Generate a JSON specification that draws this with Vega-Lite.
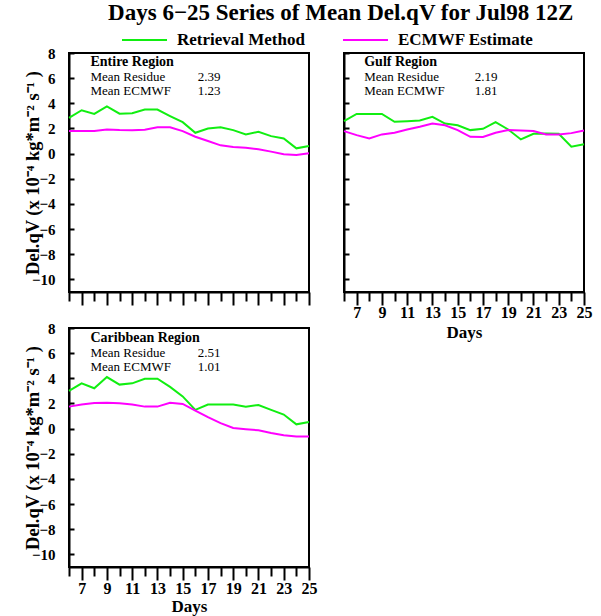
{
  "$schema": "https://vega.github.io/schema/vega-lite/v6.json",
  "background": "white",
  "padding": {"left": 22, "top": 2, "right": 8, "bottom": 2},
  "title": {"text": "Days 6−25 Series of Mean Del.qV for Jul98 12Z", "font": "Liberation Serif", "fontSize": 23, "fontWeight": "bold", "color": "black", "anchor": "middle", "offset": -9, "dx": 33},
  "datasets": {
    "series": [
      {"panel":"Entire","day":6,"series":"Retrieval Method","value":2.84},
      {"panel":"Entire","day":7,"series":"Retrieval Method","value":3.45},
      {"panel":"Entire","day":8,"series":"Retrieval Method","value":3.16},
      {"panel":"Entire","day":9,"series":"Retrieval Method","value":3.76},
      {"panel":"Entire","day":10,"series":"Retrieval Method","value":3.18},
      {"panel":"Entire","day":11,"series":"Retrieval Method","value":3.21},
      {"panel":"Entire","day":12,"series":"Retrieval Method","value":3.5},
      {"panel":"Entire","day":13,"series":"Retrieval Method","value":3.5},
      {"panel":"Entire","day":14,"series":"Retrieval Method","value":2.99},
      {"panel":"Entire","day":15,"series":"Retrieval Method","value":2.5},
      {"panel":"Entire","day":16,"series":"Retrieval Method","value":1.66},
      {"panel":"Entire","day":17,"series":"Retrieval Method","value":2.0},
      {"panel":"Entire","day":18,"series":"Retrieval Method","value":2.1},
      {"panel":"Entire","day":19,"series":"Retrieval Method","value":1.87},
      {"panel":"Entire","day":20,"series":"Retrieval Method","value":1.53},
      {"panel":"Entire","day":21,"series":"Retrieval Method","value":1.74},
      {"panel":"Entire","day":22,"series":"Retrieval Method","value":1.39},
      {"panel":"Entire","day":23,"series":"Retrieval Method","value":1.21},
      {"panel":"Entire","day":24,"series":"Retrieval Method","value":0.42},
      {"panel":"Entire","day":25,"series":"Retrieval Method","value":0.6},
      {"panel":"Entire","day":6,"series":"ECMWF Estimate","value":1.79},
      {"panel":"Entire","day":7,"series":"ECMWF Estimate","value":1.79},
      {"panel":"Entire","day":8,"series":"ECMWF Estimate","value":1.8},
      {"panel":"Entire","day":9,"series":"ECMWF Estimate","value":1.92},
      {"panel":"Entire","day":10,"series":"ECMWF Estimate","value":1.87},
      {"panel":"Entire","day":11,"series":"ECMWF Estimate","value":1.85},
      {"panel":"Entire","day":12,"series":"ECMWF Estimate","value":1.9},
      {"panel":"Entire","day":13,"series":"ECMWF Estimate","value":2.1},
      {"panel":"Entire","day":14,"series":"ECMWF Estimate","value":2.1},
      {"panel":"Entire","day":15,"series":"ECMWF Estimate","value":1.79},
      {"panel":"Entire","day":16,"series":"ECMWF Estimate","value":1.34},
      {"panel":"Entire","day":17,"series":"ECMWF Estimate","value":1.0},
      {"panel":"Entire","day":18,"series":"ECMWF Estimate","value":0.66},
      {"panel":"Entire","day":19,"series":"ECMWF Estimate","value":0.53},
      {"panel":"Entire","day":20,"series":"ECMWF Estimate","value":0.47},
      {"panel":"Entire","day":21,"series":"ECMWF Estimate","value":0.34},
      {"panel":"Entire","day":22,"series":"ECMWF Estimate","value":0.16},
      {"panel":"Entire","day":23,"series":"ECMWF Estimate","value":-0.05},
      {"panel":"Entire","day":24,"series":"ECMWF Estimate","value":-0.1},
      {"panel":"Entire","day":25,"series":"ECMWF Estimate","value":0.03},
      {"panel":"Gulf","day":6,"series":"Retrieval Method","value":2.58},
      {"panel":"Gulf","day":7,"series":"Retrieval Method","value":3.16},
      {"panel":"Gulf","day":8,"series":"Retrieval Method","value":3.16},
      {"panel":"Gulf","day":9,"series":"Retrieval Method","value":3.16},
      {"panel":"Gulf","day":10,"series":"Retrieval Method","value":2.53},
      {"panel":"Gulf","day":11,"series":"Retrieval Method","value":2.58},
      {"panel":"Gulf","day":12,"series":"Retrieval Method","value":2.63},
      {"panel":"Gulf","day":13,"series":"Retrieval Method","value":2.92},
      {"panel":"Gulf","day":14,"series":"Retrieval Method","value":2.39},
      {"panel":"Gulf","day":15,"series":"Retrieval Method","value":2.26},
      {"panel":"Gulf","day":16,"series":"Retrieval Method","value":1.87},
      {"panel":"Gulf","day":17,"series":"Retrieval Method","value":1.97},
      {"panel":"Gulf","day":18,"series":"Retrieval Method","value":2.5},
      {"panel":"Gulf","day":19,"series":"Retrieval Method","value":1.92},
      {"panel":"Gulf","day":20,"series":"Retrieval Method","value":1.13},
      {"panel":"Gulf","day":21,"series":"Retrieval Method","value":1.58},
      {"panel":"Gulf","day":22,"series":"Retrieval Method","value":1.6},
      {"panel":"Gulf","day":23,"series":"Retrieval Method","value":1.58},
      {"panel":"Gulf","day":24,"series":"Retrieval Method","value":0.55},
      {"panel":"Gulf","day":25,"series":"Retrieval Method","value":0.74},
      {"panel":"Gulf","day":6,"series":"ECMWF Estimate","value":1.79},
      {"panel":"Gulf","day":7,"series":"ECMWF Estimate","value":1.47},
      {"panel":"Gulf","day":8,"series":"ECMWF Estimate","value":1.21},
      {"panel":"Gulf","day":9,"series":"ECMWF Estimate","value":1.53},
      {"panel":"Gulf","day":10,"series":"ECMWF Estimate","value":1.66},
      {"panel":"Gulf","day":11,"series":"ECMWF Estimate","value":1.92},
      {"panel":"Gulf","day":12,"series":"ECMWF Estimate","value":2.13},
      {"panel":"Gulf","day":13,"series":"ECMWF Estimate","value":2.39},
      {"panel":"Gulf","day":14,"series":"ECMWF Estimate","value":2.26},
      {"panel":"Gulf","day":15,"series":"ECMWF Estimate","value":1.87},
      {"panel":"Gulf","day":16,"series":"ECMWF Estimate","value":1.34},
      {"panel":"Gulf","day":17,"series":"ECMWF Estimate","value":1.32},
      {"panel":"Gulf","day":18,"series":"ECMWF Estimate","value":1.66},
      {"panel":"Gulf","day":19,"series":"ECMWF Estimate","value":1.87},
      {"panel":"Gulf","day":20,"series":"ECMWF Estimate","value":1.84},
      {"panel":"Gulf","day":21,"series":"ECMWF Estimate","value":1.79},
      {"panel":"Gulf","day":22,"series":"ECMWF Estimate","value":1.53},
      {"panel":"Gulf","day":23,"series":"ECMWF Estimate","value":1.53},
      {"panel":"Gulf","day":24,"series":"ECMWF Estimate","value":1.63},
      {"panel":"Gulf","day":25,"series":"ECMWF Estimate","value":1.84},
      {"panel":"Caribbean","day":6,"series":"Retrieval Method","value":3.0},
      {"panel":"Caribbean","day":7,"series":"Retrieval Method","value":3.6},
      {"panel":"Caribbean","day":8,"series":"Retrieval Method","value":3.21},
      {"panel":"Caribbean","day":9,"series":"Retrieval Method","value":4.1},
      {"panel":"Caribbean","day":10,"series":"Retrieval Method","value":3.5},
      {"panel":"Caribbean","day":11,"series":"Retrieval Method","value":3.6},
      {"panel":"Caribbean","day":12,"series":"Retrieval Method","value":3.97},
      {"panel":"Caribbean","day":13,"series":"Retrieval Method","value":3.97},
      {"panel":"Caribbean","day":14,"series":"Retrieval Method","value":3.32},
      {"panel":"Caribbean","day":15,"series":"Retrieval Method","value":2.56},
      {"panel":"Caribbean","day":16,"series":"Retrieval Method","value":1.49},
      {"panel":"Caribbean","day":17,"series":"Retrieval Method","value":1.91},
      {"panel":"Caribbean","day":18,"series":"Retrieval Method","value":1.91},
      {"panel":"Caribbean","day":19,"series":"Retrieval Method","value":1.91},
      {"panel":"Caribbean","day":20,"series":"Retrieval Method","value":1.75},
      {"panel":"Caribbean","day":21,"series":"Retrieval Method","value":1.88},
      {"panel":"Caribbean","day":22,"series":"Retrieval Method","value":1.49},
      {"panel":"Caribbean","day":23,"series":"Retrieval Method","value":1.12},
      {"panel":"Caribbean","day":24,"series":"Retrieval Method","value":0.34},
      {"panel":"Caribbean","day":25,"series":"Retrieval Method","value":0.52},
      {"panel":"Caribbean","day":6,"series":"ECMWF Estimate","value":1.75},
      {"panel":"Caribbean","day":7,"series":"ECMWF Estimate","value":1.91},
      {"panel":"Caribbean","day":8,"series":"ECMWF Estimate","value":2.04},
      {"panel":"Caribbean","day":9,"series":"ECMWF Estimate","value":2.06},
      {"panel":"Caribbean","day":10,"series":"ECMWF Estimate","value":2.01},
      {"panel":"Caribbean","day":11,"series":"ECMWF Estimate","value":1.91},
      {"panel":"Caribbean","day":12,"series":"ECMWF Estimate","value":1.75},
      {"panel":"Caribbean","day":13,"series":"ECMWF Estimate","value":1.75},
      {"panel":"Caribbean","day":14,"series":"ECMWF Estimate","value":2.06},
      {"panel":"Caribbean","day":15,"series":"ECMWF Estimate","value":1.96},
      {"panel":"Caribbean","day":16,"series":"ECMWF Estimate","value":1.44},
      {"panel":"Caribbean","day":17,"series":"ECMWF Estimate","value":0.91},
      {"panel":"Caribbean","day":18,"series":"ECMWF Estimate","value":0.44},
      {"panel":"Caribbean","day":19,"series":"ECMWF Estimate","value":0.05},
      {"panel":"Caribbean","day":20,"series":"ECMWF Estimate","value":-0.05},
      {"panel":"Caribbean","day":21,"series":"ECMWF Estimate","value":-0.13},
      {"panel":"Caribbean","day":22,"series":"ECMWF Estimate","value":-0.34},
      {"panel":"Caribbean","day":23,"series":"ECMWF Estimate","value":-0.52},
      {"panel":"Caribbean","day":24,"series":"ECMWF Estimate","value":-0.63},
      {"panel":"Caribbean","day":25,"series":"ECMWF Estimate","value":-0.63}
    ],
    "notes": [
      {"panel":"Entire","region":"Entire Region","residue":2.39,"ecmwf":1.23},
      {"panel":"Gulf","region":"Gulf Region","residue":2.19,"ecmwf":1.81},
      {"panel":"Caribbean","region":"Caribbean Region","residue":2.51,"ecmwf":1.01}
    ]
  },
  "columns": 2,
  "spacing": {"row": 36, "column": 35},
  "bounds": "flush",
  "resolve": {"scale": {"color": "shared"}, "legend": {"color": "shared"}},
  "concat": [
    {
      "width": 240, "height": 239,
      "layer": [
        {"data": {"name": "series"}, "transform": [{"filter": "datum.panel == 'Entire'"}],
         "mark": {"type": "line", "strokeWidth": 2},
         "encoding": {
           "x": {"field": "day", "type": "quantitative", "scale": {"domain": [6, 25], "nice": false, "zero": false},
                 "axis": {"title": null, "labels": false, "tickCount": 100, "format": "d", "values": [6,7,8,9,10,11,12,13,14,15,16,17,18,19,20,21,22,23,24,25], "tickSize": {"condition": {"test": "datum.value % 2 == 1", "value": 13}, "value": 9}}},
           "y": {"field": "value", "type": "quantitative", "scale": {"domain": [-11, 8], "nice": false, "zero": false},
                 "axis": {"title": "Del.qV (x 10⁻⁴ kg*m⁻² s⁻¹ )", "titleFontSize": 18.5, "labelFontSize": 15, "tickCount": 100, "format": "d", "values": [-10,-8,-6,-4,-2,0,2,4,6,8], "tickSize": -5, "labelPadding": 19, "titlePadding": -11}},
           "color": {"field": "series", "type": "nominal", "scale": {"domain": ["Retrieval Method", "ECMWF Estimate"], "range": ["#11ee11", "#ff00ff"]}, "legend": {"title": null}}
         }},
        {"data": {"name": "notes"}, "transform": [{"filter": "datum.panel == 'Entire'"}],
         "mark": {"type": "text", "align": "left", "baseline": "middle", "fontSize": 14, "fontWeight": "bold"},
         "encoding": {"x": {"datum": 7.7, "type": "quantitative"}, "y": {"datum": 7.28, "type": "quantitative"}, "text": {"field": "region"}}},
        {"data": {"name": "notes"}, "transform": [{"filter": "datum.panel == 'Entire'"}],
         "mark": {"type": "text", "align": "left", "baseline": "middle", "fontSize": 13},
         "encoding": {"x": {"datum": 7.7, "type": "quantitative"}, "y": {"datum": 6.1, "type": "quantitative"}, "text": {"value": "Mean Residue"}}},
        {"data": {"name": "notes"}, "transform": [{"filter": "datum.panel == 'Entire'"}],
         "mark": {"type": "text", "align": "left", "baseline": "middle", "fontSize": 13},
         "encoding": {"x": {"datum": 7.7, "type": "quantitative"}, "y": {"datum": 5.0, "type": "quantitative"}, "text": {"value": "Mean ECMWF"}}},
        {"data": {"name": "notes"}, "transform": [{"filter": "datum.panel == 'Entire'"}],
         "mark": {"type": "text", "align": "left", "baseline": "middle", "fontSize": 13},
         "encoding": {"x": {"datum": 16.2, "type": "quantitative"}, "y": {"datum": 6.1, "type": "quantitative"}, "text": {"field": "residue", "format": ".2f"}}},
        {"data": {"name": "notes"}, "transform": [{"filter": "datum.panel == 'Entire'"}],
         "mark": {"type": "text", "align": "left", "baseline": "middle", "fontSize": 13},
         "encoding": {"x": {"datum": 16.2, "type": "quantitative"}, "y": {"datum": 5.0, "type": "quantitative"}, "text": {"field": "ecmwf", "format": ".2f"}}}
      ]
    },
    {
      "width": 240, "height": 239,
      "layer": [
        {"data": {"name": "series"}, "transform": [{"filter": "datum.panel == 'Gulf'"}],
         "mark": {"type": "line", "strokeWidth": 2},
         "encoding": {
           "x": {"field": "day", "type": "quantitative", "scale": {"domain": [6, 25], "nice": false, "zero": false},
                 "axis": {"title": "Days", "tickCount": 100, "format": "d", "labelPadding": -1, "titlePadding": 4, "labelExpr": "datum.value % 2 == 1 ? datum.label : ''", "values": [6,7,8,9,10,11,12,13,14,15,16,17,18,19,20,21,22,23,24,25], "tickSize": {"condition": {"test": "datum.value % 2 == 1", "value": 13}, "value": 9}}},
           "y": {"field": "value", "type": "quantitative", "scale": {"domain": [-11, 8], "nice": false, "zero": false},
                 "axis": {"title": null, "labels": false, "tickCount": 100, "values": [-10,-8,-6,-4,-2,0,2,4,6,8], "tickSize": -5}},
           "color": {"field": "series", "type": "nominal", "scale": {"domain": ["Retrieval Method", "ECMWF Estimate"], "range": ["#11ee11", "#ff00ff"]}, "legend": {"title": null}}
         }},
        {"data": {"name": "notes"}, "transform": [{"filter": "datum.panel == 'Gulf'"}],
         "mark": {"type": "text", "align": "left", "baseline": "middle", "fontSize": 14, "fontWeight": "bold"},
         "encoding": {"x": {"datum": 7.6, "type": "quantitative"}, "y": {"datum": 7.28, "type": "quantitative"}, "text": {"field": "region"}}},
        {"data": {"name": "notes"}, "transform": [{"filter": "datum.panel == 'Gulf'"}],
         "mark": {"type": "text", "align": "left", "baseline": "middle", "fontSize": 13},
         "encoding": {"x": {"datum": 7.6, "type": "quantitative"}, "y": {"datum": 6.1, "type": "quantitative"}, "text": {"value": "Mean Residue"}}},
        {"data": {"name": "notes"}, "transform": [{"filter": "datum.panel == 'Gulf'"}],
         "mark": {"type": "text", "align": "left", "baseline": "middle", "fontSize": 13},
         "encoding": {"x": {"datum": 7.6, "type": "quantitative"}, "y": {"datum": 5.0, "type": "quantitative"}, "text": {"value": "Mean ECMWF"}}},
        {"data": {"name": "notes"}, "transform": [{"filter": "datum.panel == 'Gulf'"}],
         "mark": {"type": "text", "align": "left", "baseline": "middle", "fontSize": 13},
         "encoding": {"x": {"datum": 16.35, "type": "quantitative"}, "y": {"datum": 6.1, "type": "quantitative"}, "text": {"field": "residue", "format": ".2f"}}},
        {"data": {"name": "notes"}, "transform": [{"filter": "datum.panel == 'Gulf'"}],
         "mark": {"type": "text", "align": "left", "baseline": "middle", "fontSize": 13},
         "encoding": {"x": {"datum": 16.35, "type": "quantitative"}, "y": {"datum": 5.0, "type": "quantitative"}, "text": {"field": "ecmwf", "format": ".2f"}}}
      ]
    },
    {
      "width": 240, "height": 239,
      "layer": [
        {"data": {"name": "series"}, "transform": [{"filter": "datum.panel == 'Caribbean'"}],
         "mark": {"type": "line", "strokeWidth": 2},
         "encoding": {
           "x": {"field": "day", "type": "quantitative", "scale": {"domain": [6, 25], "nice": false, "zero": false},
                 "axis": {"title": "Days", "tickCount": 100, "format": "d", "labelPadding": 0, "titlePadding": 2, "labelExpr": "datum.value % 2 == 1 ? datum.label : ''", "values": [6,7,8,9,10,11,12,13,14,15,16,17,18,19,20,21,22,23,24,25], "tickSize": {"condition": {"test": "datum.value % 2 == 1", "value": 13}, "value": 9}}},
           "y": {"field": "value", "type": "quantitative", "scale": {"domain": [-11, 8], "nice": false, "zero": false},
                 "axis": {"title": "Del.qV (x 10⁻⁴ kg*m⁻² s⁻¹ )", "titleFontSize": 18.5, "labelFontSize": 15, "tickCount": 100, "format": "d", "values": [-10,-8,-6,-4,-2,0,2,4,6,8], "tickSize": -5, "labelPadding": 19, "titlePadding": -11}},
           "color": {"field": "series", "type": "nominal", "scale": {"domain": ["Retrieval Method", "ECMWF Estimate"], "range": ["#11ee11", "#ff00ff"]}, "legend": {"title": null}}
         }},
        {"data": {"name": "notes"}, "transform": [{"filter": "datum.panel == 'Caribbean'"}],
         "mark": {"type": "text", "align": "left", "baseline": "middle", "fontSize": 14, "fontWeight": "bold"},
         "encoding": {"x": {"datum": 7.7, "type": "quantitative"}, "y": {"datum": 7.18, "type": "quantitative"}, "text": {"field": "region"}}},
        {"data": {"name": "notes"}, "transform": [{"filter": "datum.panel == 'Caribbean'"}],
         "mark": {"type": "text", "align": "left", "baseline": "middle", "fontSize": 13},
         "encoding": {"x": {"datum": 7.7, "type": "quantitative"}, "y": {"datum": 6.0, "type": "quantitative"}, "text": {"value": "Mean Residue"}}},
        {"data": {"name": "notes"}, "transform": [{"filter": "datum.panel == 'Caribbean'"}],
         "mark": {"type": "text", "align": "left", "baseline": "middle", "fontSize": 13},
         "encoding": {"x": {"datum": 7.7, "type": "quantitative"}, "y": {"datum": 4.9, "type": "quantitative"}, "text": {"value": "Mean ECMWF"}}},
        {"data": {"name": "notes"}, "transform": [{"filter": "datum.panel == 'Caribbean'"}],
         "mark": {"type": "text", "align": "left", "baseline": "middle", "fontSize": 13},
         "encoding": {"x": {"datum": 16.2, "type": "quantitative"}, "y": {"datum": 6.0, "type": "quantitative"}, "text": {"field": "residue", "format": ".2f"}}},
        {"data": {"name": "notes"}, "transform": [{"filter": "datum.panel == 'Caribbean'"}],
         "mark": {"type": "text", "align": "left", "baseline": "middle", "fontSize": 13},
         "encoding": {"x": {"datum": 16.2, "type": "quantitative"}, "y": {"datum": 4.9, "type": "quantitative"}, "text": {"field": "ecmwf", "format": ".2f"}}}
      ]
    }
  ],
  "config": {
    "font": "Liberation Serif",
    "view": {"stroke": "black", "strokeWidth": 2},
    "text": {"font": "Liberation Serif", "color": "black"},
    "axis": {"grid": false, "domainColor": "black", "domainWidth": 2, "tickColor": "black", "tickWidth": 2,
             "labelColor": "black", "labelFont": "Liberation Serif", "labelFontWeight": "bold", "labelFontSize": 16,
             "labelPadding": 2, "labelFlush": false, "labelOverlap": false,
             "titleColor": "black", "titleFont": "Liberation Serif", "titleFontWeight": "bold", "titleFontSize": 17, "titlePadding": 2},
    "legend": {"orient": "none", "legendX": 52, "legendY": -36.7, "direction": "horizontal", "symbolType": "stroke", "symbolSize": 2025,
               "symbolStrokeWidth": 2, "labelFont": "Liberation Serif", "labelFontWeight": "bold", "labelFontSize": 17, "labelColor": "black",
               "labelOffset": 9, "columnPadding": 34, "padding": 0, "labelLimit": 300}
  }
}
